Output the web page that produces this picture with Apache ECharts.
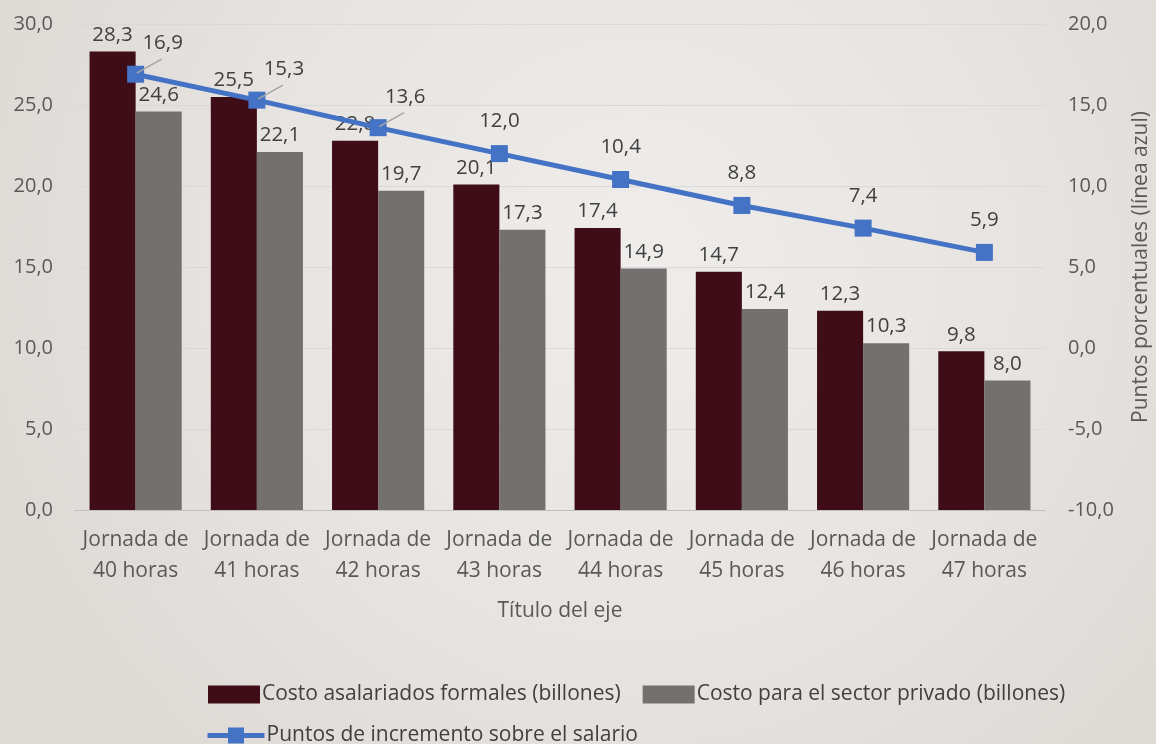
<!DOCTYPE html>
<html>
<head>
<meta charset="utf-8">
<script src="https://cdn.jsdelivr.net/npm/echarts@6/dist/echarts.min.js"></script>
<style>
html,body{margin:0;padding:0;}
#c{width:1156px;height:744px;}
</style>
</head>
<body>
<div id="c"></div>
<script>
const categories = ['Jornada de\n40 horas','Jornada de\n41 horas','Jornada de\n42 horas','Jornada de\n43 horas','Jornada de\n44 horas','Jornada de\n45 horas','Jornada de\n46 horas','Jornada de\n47 horas'];
const costoFormales = [28.3, 25.5, 22.8, 20.1, 17.4, 14.7, 12.3, 9.8];
const costoPrivado = [24.6, 22.1, 19.7, 17.3, 14.9, 12.4, 10.3, 8.0];
const puntosIncremento = [16.9, 15.3, 13.6, 12.0, 10.4, 8.8, 7.4, 5.9];
const seriesNames = ['Costo asalariados formales (billones)', 'Costo para el sector privado (billones)', 'Puntos de incremento sobre el salario'];
const shiftedLabels = 3; // first line labels pulled aside with a leader line

const FONT = '"Open Sans", "Noto Sans", sans-serif';
const fmt = v => Number(v).toFixed(1).replace('.', ',');

// leader-line data: the shifted line points (category index, value)
const leaderData = puntosIncremento.slice(0, shiftedLabels).map((v, i) => [i, v]);

const chart = echarts.init(document.getElementById('c'));
chart.setOption({
  backgroundColor: {
    type: 'radial', x: 0.55, y: 0.35, r: 0.9,
    colorStops: [
      {offset: 0, color: '#efedeb'},
      {offset: 0.6, color: '#e6e3e0'},
      {offset: 1, color: '#dedad6'}
    ]
  },
  textStyle: {fontFamily: FONT},
  animation: false,
  grid: {left: 75, right: 111, top: 24, bottom: 234, outerBoundsMode: 'none', containLabel: false},
  legend: [
    {
      data: [{name: seriesNames[0], icon: 'rect'}, {name: seriesNames[1], icon: 'rect'}],
      left: 203, top: 679,
      itemWidth: 52, itemHeight: 18, itemGap: 22,
      textStyle: {fontSize: 21, color: '#404040', fontFamily: FONT, padding: [0,0,0,-3]}
    },
    {
      data: [seriesNames[2]],
      left: 200, top: 720,
      itemWidth: 57, itemHeight: 20,
      lineStyle: {width: 5},
      textStyle: {fontSize: 21, color: '#404040', fontFamily: FONT, padding: [0,0,0,-3]}
    }
  ],
  xAxis: {
    type: 'category',
    data: categories,
    name: 'Título del eje',
    nameLocation: 'middle',
    nameGap: 91,
    nameTextStyle: {fontSize: 21, color: '#595959'},
    axisLine: {lineStyle: {color: '#bfbfbf', width: 1}},
    axisTick: {show: false},
    axisLabel: {fontSize: 21, color: '#595959', lineHeight: 31, margin: 15, interval: 0}
  },
  yAxis: [
    {
      type: 'value', min: 0, max: 30, interval: 5,
      axisLabel: {formatter: fmt, fontSize: 20, color: '#595959', margin: 22},
      splitLine: {lineStyle: {color: '#d9d9d9'}},
      axisLine: {show: false}, axisTick: {show: false}
    },
    {
      type: 'value', min: -10, max: 20, interval: 5,
      name: 'Puntos porcentuales (línea azul)',
      nameLocation: 'middle', nameRotate: 90, nameGap: 86,
      nameTextStyle: {fontSize: 21, color: '#595959'},
      axisLabel: {formatter: fmt, fontSize: 20, color: '#595959', margin: 23},
      splitLine: {show: false},
      axisLine: {show: false}, axisTick: {show: false}
    }
  ],
  series: [
    {
      name: seriesNames[0], type: 'bar', data: costoFormales,
      itemStyle: {color: '#3f0d17'},
      barGap: '0%', barCategoryGap: '24%',
      label: {show: true, position: 'top', formatter: p => fmt(p.value), fontSize: 20.5, color: '#404040', distance: 6}
    },
    {
      name: seriesNames[1], type: 'bar', data: costoPrivado,
      itemStyle: {color: '#747070'},
      label: {show: true, position: 'top', formatter: p => fmt(p.value), fontSize: 20.5, color: '#404040', distance: 6}
    },
    {
      name: seriesNames[2], type: 'line', yAxisIndex: 1, data: puntosIncremento,
      symbol: 'rect', symbolSize: 17,
      lineStyle: {color: '#4472c4', width: 5},
      itemStyle: {color: '#4472c4'},
      label: {show: true, position: 'top', formatter: p => fmt(p.value), fontSize: 20.5, color: '#404040', distance: 13},
      labelLayout: function (params) {
        if (params.dataIndex < shiftedLabels) {
          return {dx: 27, dy: 1};
        }
        return {};
      },
      z: 5
    },
    {
      type: 'custom', yAxisIndex: 1, data: leaderData, silent: true, z: 6,
      renderItem: function (params, api) {
        const p = api.coord([api.value(0), api.value(1)]);
        return {
          type: 'line',
          shape: {x1: p[0] + 1, y1: p[1] - 1, x2: p[0] + 26, y2: p[1] - 15},
          style: {stroke: '#a6a6a6', lineWidth: 1.5}
        };
      }
    }
  ]
});
</script>
</body>
</html>
